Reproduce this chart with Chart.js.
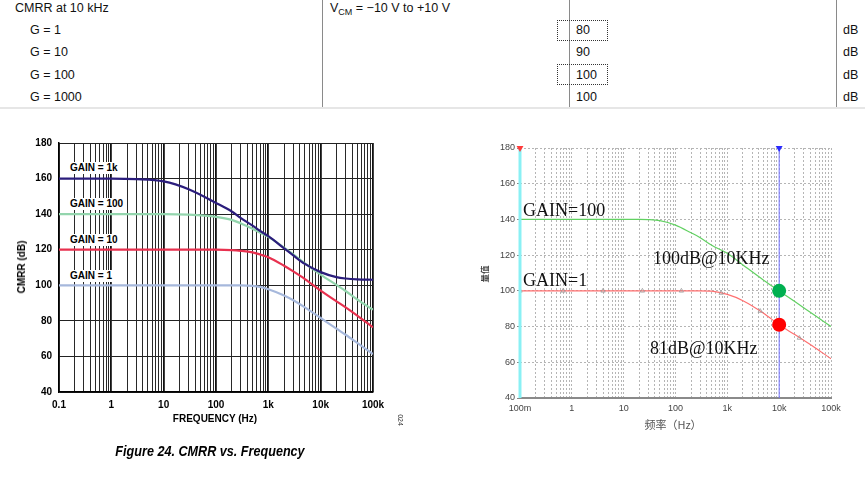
<!DOCTYPE html>
<html><head><meta charset="utf-8">
<script src="https://cdn.jsdelivr.net/npm/chart.js@4.4.1/dist/chart.umd.min.js"></script>
<style>
html,body{margin:0;padding:0;background:#fff;}
body{width:865px;height:478px;position:relative;overflow:hidden;font-family:"Liberation Sans",Arial,sans-serif;}
.t{position:absolute;white-space:nowrap;line-height:1;}
.tb{font-size:12.5px;color:#111;transform:translateY(-50%);}
.vl{position:absolute;top:0;width:1px;height:108px;background:#8a8a8a;}
.box{position:absolute;border:1px dotted #333;box-sizing:border-box;}
canvas{position:absolute;}
.gl{font-weight:bold;font-size:10px;background:#fff;padding:1px 2px;transform:translateY(-50%);color:#000;}
.rl{font-family:"Liberation Serif","Times New Roman",serif;font-size:18px;color:#111;transform:translateY(-50%);}
</style></head><body>
<div id="table"></div>
<canvas id="cL" width="420" height="300" style="left:0;top:130px;"></canvas>
<canvas id="cR" width="395" height="300" style="left:470px;top:130px;"></canvas>

<div class="t" style="left:22px;top:267px;font-weight:bold;font-size:10px;transform:translate(-50%,-50%) rotate(-90deg);">CMRR (dB)</div>
<div class="t" style="left:215px;top:419px;font-weight:bold;font-size:10px;transform:translate(-50%,-50%);">FREQUENCY (Hz)</div>
<div class="t" style="left:400px;top:420px;font-size:7px;color:#333;transform:translate(-50%,-50%) rotate(90deg);">024</div>
<div class="t" style="left:210px;top:451px;font-weight:bold;font-style:italic;font-size:14.5px;transform:translate(-50%,-50%) scaleX(0.87);">Figure 24. CMRR vs. Frequency</div>

<div class="t gl" style="left:68px;top:168px;">GAIN = 1k</div>
<div class="t gl" style="left:68px;top:204px;">GAIN = 100</div>
<div class="t gl" style="left:68px;top:240px;">GAIN = 10</div>
<div class="t gl" style="left:68px;top:276px;">GAIN = 1</div>

<div class="t rl" style="left:523px;top:210px;">GAIN=100</div>
<div class="t rl" style="left:523px;top:280px;">GAIN=1</div>
<div class="t rl" style="left:653px;top:258px;">100dB@10KHz</div>
<div class="t rl" style="left:650px;top:348px;">81dB@10KHz</div>
<div class="t" style="left:484px;top:274px;font-family:'Noto Sans CJK SC',sans-serif;font-size:8.5px;font-weight:bold;color:#444;transform:translate(-50%,-50%) rotate(-90deg);">量值</div>
<div class="t" style="left:673px;top:424px;font-family:'Noto Sans CJK SC',sans-serif;font-size:11px;color:#555;transform:translate(-50%,-50%);">频率（Hz）</div>

<script>
// ---- table data ----
const tableGains = ['G = 1', 'G = 10', 'G = 100', 'G = 1000'];
const tableCMRR  = [80, 90, 100, 100];

// ---- left chart data (ADI datasheet, Figure 24) ----
const freqL    = [0.1, 1, 3, 10, 30, 100, 200, 300, 500, 700, 1000, 2000, 3000, 5000, 10000, 20000, 30000, 50000, 100000];
const cmrrG1k  = [160, 160, 159.7, 158.4, 154, 146.3, 141.5, 137.8, 133.5, 130.5, 127.6, 120.8, 116.8, 112, 107.4, 104.6, 103.8, 103.3, 103.1];
const cmrrG100 = [140, 140, 140, 140, 139.7, 138.5, 136.8, 134.8, 131.8, 129.5, 127.2, 121.2, 117.4, 112.3, 106, 100.2, 96.8, 92, 86.3];
const cmrrG10  = [120, 120, 120, 120, 120, 120, 119.8, 119.4, 118.5, 117.3, 115.8, 111, 107.8, 103.5, 97, 91, 87.6, 83, 76.4];
const cmrrG1   = [100, 100, 100, 100, 100, 100, 100, 100, 99.7, 99.1, 97.8, 94.3, 91.6, 87.6, 81.6, 75.6, 72.2, 67.6, 61.3];
const decadeValues = [0.1, 1, 10, 100, 1000, 10000, 100000];
const xTickLabelsL = ['0.1', '1', '10', '100', '1k', '10k', '100k'];
const yTicks       = [40, 60, 80, 100, 120, 140, 160, 180];

// ---- right chart data (simulation) ----
const freqR      = [0.1, 1, 10, 20, 30, 50, 100, 200, 300, 500, 1000, 2000, 5000, 10000, 20000, 50000, 100000];
const simGain100 = [140, 140, 140, 140, 139.9, 139.3, 136.8, 132.5, 129.8, 125.5, 121, 114.5, 106, 100, 94, 86, 80];
const simGain1   = [100, 100, 100, 100, 100, 100, 100, 100, 100, 99.8, 98, 94.5, 87.5, 81, 75.5, 68, 62];
const markFreq   = [0.1, 0.68, 4, 23, 130, 760, 4300, 24500];
const markVal    = [100, 100, 100, 100, 100, 98.8, 88.7, 73.6];
const dotFreq    = [10000, 10000];
const dotVal     = [100, 81];
const cursorFreq = [0.1, 10000];
const xTickLabelsR = ['100m', '1', '10', '100', '1k', '10k', '100k'];

// ---- build table ----
(function(){
  const T = document.getElementById('table');
  const add = (html, cls, style) => { const d = document.createElement('div'); d.className = cls; d.setAttribute('style', style); d.innerHTML = html; T.appendChild(d); };
  add('CMRR at 10 kHz', 't tb', 'left:15px;top:8px;');
  add('V<span style="font-size:9px;position:relative;top:3px;">CM</span> = −10 V to +10 V', 't tb', 'left:330px;top:8px;');
  const rowY = [30, 52, 75, 97];
  tableGains.forEach((g, i) => {
    add(g, 't tb', 'left:30px;top:' + rowY[i] + 'px;');
    add(String(tableCMRR[i]), 't tb', 'left:576px;top:' + rowY[i] + 'px;');
    add('dB', 't tb', 'left:843px;top:' + rowY[i] + 'px;');
  });
  [322, 569, 836].forEach(x => add('', 'vl', 'left:' + x + 'px;'));
  add('', '', 'position:absolute;left:0;top:107px;width:865px;height:2px;background:#e6e6e6;');
  add('', 'box', 'left:557px;top:20px;width:51px;height:21px;');
  add('', 'box', 'left:557px;top:64px;width:51px;height:21px;');
})();

function logGridTicks() {
  const ticks = [];
  for (let d = 0; d < decadeValues.length - 1; d++) {
    for (let m = 1; m <= 9; m++) ticks.push({ value: decadeValues[d] * m, major: m === 1 });
  }
  ticks.push({ value: decadeValues[decadeValues.length - 1], major: true });
  return ticks;
}
const isDecade = v => decadeValues.some(d => Math.abs(d - v) < d * 1e-9);
const pts = (xs, ys) => xs.map((x, i) => ({ x: x, y: ys[i] }));

// ---- left chart ----
const fontL = { family: 'Liberation Sans', size: 10, weight: 'bold' };
new Chart(document.getElementById('cL'), {
  type: 'line',
  data: {
    datasets: [
      { data: pts(freqL, cmrrG1k),  borderColor: '#2b1d7c', borderWidth: 2.2 },
      { data: pts(freqL, cmrrG100), borderColor: '#93d5ad', borderWidth: 2.2 },
      { data: pts(freqL, cmrrG10),  borderColor: '#e8314f', borderWidth: 2.2 },
      { data: pts(freqL, cmrrG1),   borderColor: '#a6b8dc', borderWidth: 2.2 }
    ].map(d => Object.assign(d, { pointRadius: 0, cubicInterpolationMode: 'monotone', fill: false }))
  },
  options: {
    responsive: false, animation: false, devicePixelRatio: 1,
    layout: { padding: { left: 0, top: 12, right: 47, bottom: 0 } },
    plugins: { legend: { display: false }, tooltip: { enabled: false } },
    scales: {
      x: {
        type: 'logarithmic', min: 0.1, max: 100000,
        afterBuildTicks: s => { s.ticks = logGridTicks(); },
        afterFit: s => { s.height = 38; },
        ticks: { autoSkip: false, maxRotation: 0, minRotation: 0, padding: 7, color: '#000', font: fontL,
          callback: v => { const i = decadeValues.findIndex(d => Math.abs(d - v) < d * 1e-9); return i >= 0 ? xTickLabelsL[i] : ''; } },
        grid: { color: '#111', lineWidth: c => (c.tick && isDecade(c.tick.value)) ? 1.8 : 0.9, drawTicks: false },
        border: { display: true, color: '#000', width: 1.5 }
      },
      y: {
        min: 40, max: 180,
        afterBuildTicks: s => { s.ticks = yTicks.map(v => ({ value: v })); },
        afterFit: s => { s.width = 59; },
        ticks: { padding: 7, color: '#000', font: fontL },
        grid: { color: '#222', lineWidth: 1, drawTicks: false },
        border: { display: true, color: '#000', width: 1.5 }
      }
    }
  }
});

// ---- right chart ----
const fontR = { family: 'Liberation Sans', size: 9 };
new Chart(document.getElementById('cR'), {
  type: 'line',
  data: {
    datasets: [
      { data: pts(dotFreq, dotVal), showLine: false, pointRadius: 7, pointBorderWidth: 0,
        pointBackgroundColor: ['#00b050', '#ff0000'], clip: false },
      { data: [{ x: cursorFreq[1], y: 40 }, { x: cursorFreq[1], y: 180 }], borderColor: '#6f6fff', borderWidth: 1,
        pointRadius: [0, 4], pointStyle: 'triangle', rotation: 180, pointBackgroundColor: '#2a2aff', pointBorderWidth: 0, clip: false },
      { data: [{ x: cursorFreq[0], y: 40 }, { x: cursorFreq[0], y: 180 }], borderColor: '#8af0f4', borderWidth: 3,
        pointRadius: [0, 4], pointStyle: 'triangle', rotation: 180, pointBackgroundColor: '#ff3b3b', pointBorderWidth: 0, clip: false },
      { data: pts(markFreq, markVal), showLine: false, pointRadius: 2.5, pointStyle: 'triangle',
        pointBorderColor: '#9a9a9a', pointBackgroundColor: 'rgba(255,255,255,0)', pointBorderWidth: 0.8 },
      { data: pts(freqR, simGain100), borderColor: '#62d162', borderWidth: 1.2, pointRadius: 0, cubicInterpolationMode: 'monotone' },
      { data: pts(freqR, simGain1), borderColor: '#ff6f6f', borderWidth: 1.2, pointRadius: 0, cubicInterpolationMode: 'monotone' }
    ]
  },
  options: {
    responsive: false, animation: false, devicePixelRatio: 1,
    layout: { padding: { left: 0, top: 18, right: 34, bottom: 0 } },
    plugins: { legend: { display: false }, tooltip: { enabled: false } },
    scales: {
      x: {
        type: 'logarithmic', min: 0.1, max: 100000,
        afterBuildTicks: s => { s.ticks = logGridTicks(); },
        afterFit: s => { s.height = 32; },
        ticks: { autoSkip: false, maxRotation: 0, minRotation: 0, padding: 5, color: '#444', font: fontR,
          callback: v => { const i = decadeValues.findIndex(d => Math.abs(d - v) < d * 1e-9); return i >= 0 ? xTickLabelsR[i] : ''; } },
        grid: { color: '#b5b5b5', lineWidth: 1, drawTicks: false },
        border: { display: true, color: '#8a8a8a', width: 2, dash: [2, 2] }
      },
      y: {
        min: 40, max: 180,
        afterBuildTicks: s => { s.ticks = yTicks.map(v => ({ value: v })); },
        afterFit: s => { s.width = 50; },
        ticks: { padding: 2, color: '#444', font: fontR },
        grid: { color: '#b5b5b5', lineWidth: 1, drawTicks: true, tickLength: 3, tickColor: '#888', tickBorderDash: [] },
        border: { display: false, dash: [2, 2] }
      }
    }
  }
});
</script>
</body></html>
